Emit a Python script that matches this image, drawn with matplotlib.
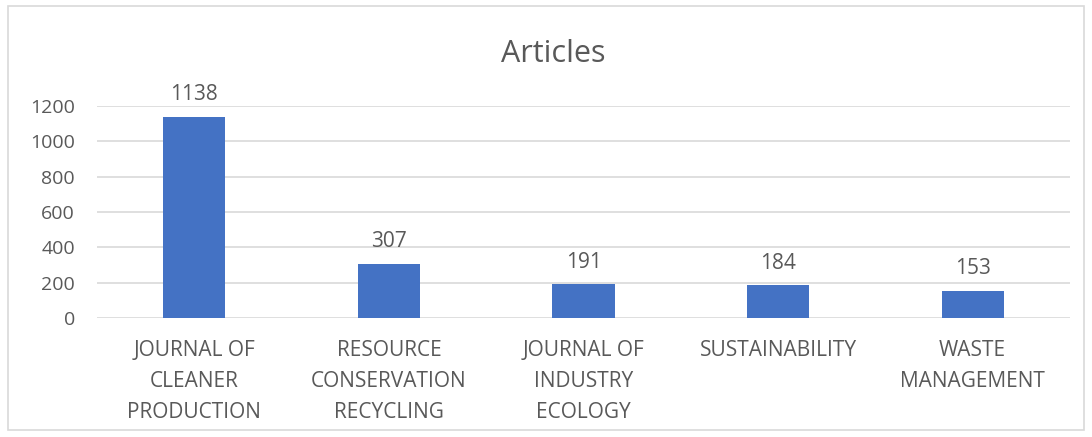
import matplotlib
matplotlib.use("Agg")
import matplotlib.pyplot as plt
from matplotlib.patches import Rectangle

# === data ===
journals = [
    "JOURNAL OF\nCLEANER\nPRODUCTION",
    "RESOURCE\nCONSERVATION\nRECYCLING",
    "JOURNAL OF\nINDUSTRY\nECOLOGY",
    "SUSTAINABILITY",
    "WASTE\nMANAGEMENT",
]
articles = [1138, 307, 191, 184, 153]
y_ticks = [0, 200, 400, 600, 800, 1000, 1200]

txt = "#595959"
grid = "#d9d9d9"
plt.rcParams["font.family"] = ["Open Sans", "DejaVu Sans"]

fig = plt.figure(figsize=(10.92, 4.37), dpi=100)
fig.patches.append(Rectangle((8 / 1092, 7 / 437), 1076 / 1092, 424 / 437,
                             transform=fig.transFigure, fill=False,
                             edgecolor=grid, linewidth=1.2))

ax = fig.add_axes([97 / 1092, 1 - 318 / 437, 973 / 1092, 212 / 437])
x = range(len(journals))
bars = ax.bar(x, articles, width=0.32, color="#4472C4", zorder=3)
for b, v in zip(bars, articles):
    ax.annotate(str(v), (b.get_x() + b.get_width() / 2, v),
                xytext=(0, 12), textcoords="offset points",
                ha="center", va="baseline", fontsize=15, color=txt)

ax.set_xlim(-0.5, len(journals) - 0.5)
ax.set_ylim(0, 1200)
ax.set_yticks(y_ticks)
ax.set_xticks(list(x))
ax.set_xticklabels(journals, linespacing=1.63, va="top", fontsize=15)
ax.tick_params(axis="both", length=0, labelcolor=txt)
ax.tick_params(axis="y", labelsize=14, pad=16)
ax.tick_params(axis="x", pad=16)
ax.grid(axis="y", color=grid, linewidth=1.2, zorder=0)
for s in ax.spines.values():
    s.set_visible(False)

fig.text(553 / 1092, 1 - 62 / 437, "Articles", ha="center", va="baseline",
         fontsize=22, color=txt)

fig.savefig("out.png", dpi=100)
